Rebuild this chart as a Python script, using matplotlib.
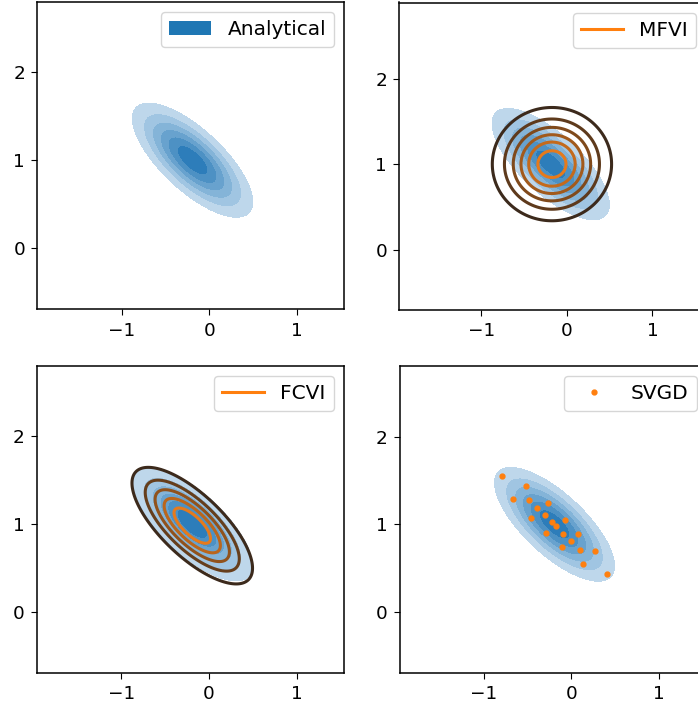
import numpy as np
import matplotlib.pyplot as plt
from matplotlib.patches import Patch
from matplotlib.lines import Line2D

# analytical posterior (2d gaussian)
mu_true = [-0.19, 1.0]
sd_true = [0.352, 0.334]
rho_true = -0.73

# mean-field VI approximation
mu_mfvi = [-0.175, 1.0]
sd_mfvi = [0.358, 0.340]

# full-covariance VI approximation
mu_fcvi = [-0.19, 0.98]
sd_fcvi = [0.365, 0.353]
rho_fcvi = -0.73

# SVGD particles
svgd_x = [-0.789, -0.514, -0.659, -0.480, -0.263, -0.392, -0.297, -0.457, -0.069, -0.221,
          -0.171, -0.290, -0.095, 0.084, -0.004, -0.103, 0.099, 0.278, 0.137, 0.408]
svgd_y = [1.551, 1.433, 1.293, 1.274, 1.247, 1.183, 1.103, 1.076, 1.053, 1.030,
          0.977, 0.905, 0.890, 0.894, 0.814, 0.738, 0.711, 0.692, 0.551, 0.430]

plt.rcParams['font.family'] = 'DejaVu Sans'
plt.rcParams['xtick.labelsize'] = 13.3
plt.rcParams['ytick.labelsize'] = 13.3
plt.rcParams['xtick.major.size'] = 4.3
plt.rcParams['ytick.major.size'] = 4.3
plt.rcParams['xtick.major.pad'] = 4.5
plt.rcParams['ytick.major.pad'] = 4.5
plt.rcParams['axes.linewidth'] = 1.1
plt.rcParams['legend.fontsize'] = 14.5


def gauss_pdf(X, Y, mu, sd, rho=0.0):
    dx = (X - mu[0]) / sd[0]
    dy = (Y - mu[1]) / sd[1]
    q = (dx**2 - 2 * rho * dx * dy + dy**2) / (1 - rho**2)
    return np.exp(-q / 2) / (2 * np.pi * sd[0] * sd[1] * np.sqrt(1 - rho**2))


def peak(sd, rho=0.0):
    return 1 / (2 * np.pi * sd[0] * sd[1] * np.sqrt(1 - rho**2))


fill_colors = ['#bed7eb', '#a0c5e2', '#84b4d8', '#68a2ce', '#4d91c4', '#2d7dba']
dark = np.array([0.235, 0.165, 0.11])
orange = np.array([0.90, 0.48, 0.11])


def line_colors(n):
    return [tuple(dark + (orange - dark) * t) for t in np.linspace(0, 1, n)]


def draw_truth(ax, xlim, ylim):
    x = np.linspace(xlim[0], xlim[1], 400)
    y = np.linspace(ylim[0], ylim[1], 400)
    X, Y = np.meshgrid(x, y)
    Z = gauss_pdf(X, Y, mu_true, sd_true, rho_true)
    lv = peak(sd_true, rho_true) * np.arange(0.15, 1.1, 0.15)
    ax.contourf(X, Y, Z, levels=lv, colors=fill_colors)
    return X, Y


fig = plt.figure(figsize=(6.98, 7.06), dpi=100)
W, H = 698, 706
size = 307


def make_ax(left, top):
    return fig.add_axes([left / W, (H - top - size) / H, size / W, size / H])


ax1 = make_ax(37.3, 2.3)
ax2 = make_ax(399.3, 2.5)
ax3 = make_ax(37.0, 366.0)
ax4 = make_ax(399.7, 366.0)

lims = {ax1: ((-1.96, 1.54), (-0.70, 2.80)),
        ax2: ((-1.96, 1.63), (-0.70, 2.89)),
        ax3: ((-1.96, 1.54), (-0.70, 2.80)),
        ax4: ((-1.96, 1.55), (-0.70, 2.81))}

# analytical
draw_truth(ax1, *lims[ax1])
ax1.legend(handles=[Patch(facecolor='C0', label='Analytical')], loc='upper right',
           handlelength=2.1)

# MFVI
X, Y = draw_truth(ax2, *lims[ax2])
Z = gauss_pdf(X, Y, mu_mfvi, sd_mfvi)
lv = peak(sd_mfvi) * np.arange(0.15, 0.95, 0.15)
ax2.contour(X, Y, Z, levels=lv, colors=line_colors(len(lv)), linewidths=2.2)
ax2.legend(handles=[Line2D([], [], color='C1', lw=2.2, label='MFVI')], loc='upper right',
           handlelength=2.1)

# FCVI
X, Y = draw_truth(ax3, *lims[ax3])
Z = gauss_pdf(X, Y, mu_fcvi, sd_fcvi, rho_fcvi)
lv = peak(sd_fcvi, rho_fcvi) * np.arange(0.17, 0.9, 0.17)
ax3.contour(X, Y, Z, levels=lv, colors=line_colors(len(lv)), linewidths=2.2)
ax3.legend(handles=[Line2D([], [], color='C1', lw=2.2, label='FCVI')], loc='upper right',
           handlelength=2.1)

# SVGD
draw_truth(ax4, *lims[ax4])
ax4.plot(svgd_x, svgd_y, '.', color='C1', ms=7, label='SVGD')
ax4.legend(loc='upper right', handlelength=2.1)

for ax in (ax1, ax2, ax3, ax4):
    ax.set_xlim(lims[ax][0])
    ax.set_ylim(lims[ax][1])
    ax.set_xticks([-1, 0, 1])
    ax.set_yticks([0, 1, 2])

fig.savefig('out.png', dpi=100)
